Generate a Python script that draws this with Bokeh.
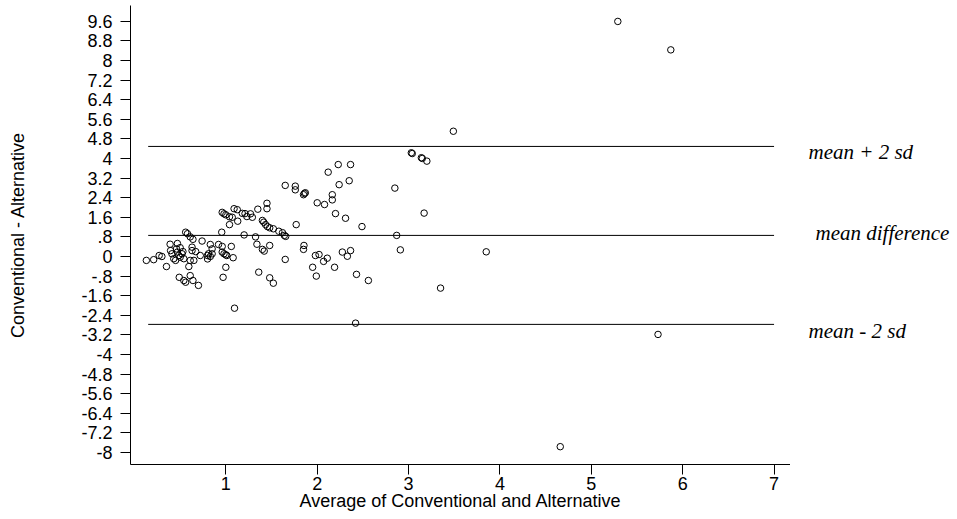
from bokeh.plotting import figure
from bokeh.models import Range1d, LinearAxis, FixedTicker, ColumnDataSource
from bokeh.layouts import row
from bokeh.core.properties import value
from bokeh.embed import file_html
from bokeh.resources import INLINE

# ---- data ----
avg = [0.13, 0.21, 0.27, 0.30, 0.35,
       0.39, 0.395, 0.41, 0.43, 0.45, 0.46, 0.47, 0.47, 0.485, 0.49, 0.50, 0.50, 0.52, 0.53, 0.54, 0.54,
       0.56, 0.56, 0.58, 0.595, 0.61, 0.61, 0.61, 0.63, 0.63, 0.64, 0.64, 0.65, 0.67, 0.70, 0.72, 0.74,
       0.80, 0.80, 0.81, 0.83, 0.83, 0.85, 0.85, 0.92, 0.955, 0.96, 0.96, 0.96, 0.97, 0.98, 0.98, 1.00, 1.00, 1.00, 1.01,
       1.04, 1.04, 1.06, 1.07, 1.08, 1.09, 1.095, 1.125, 1.13, 1.18, 1.20, 1.21, 1.23, 1.27, 1.29, 1.325, 1.34, 1.35, 1.36,
       1.40, 1.40, 1.415, 1.42, 1.435, 1.45, 1.45, 1.455, 1.48, 1.48, 1.48, 1.52, 1.52, 1.58, 1.62, 1.64, 1.65, 1.65, 1.655,
       1.76, 1.76, 1.77, 1.85, 1.85, 1.855, 1.86, 1.87, 1.95, 1.98, 1.99, 2.00, 2.02, 2.07, 2.08, 2.11, 2.12, 2.165, 2.165,
       2.19, 2.20, 2.23, 2.24, 2.275, 2.31, 2.33, 2.35, 2.365, 2.365, 2.42, 2.43, 2.49, 2.56,
       2.85, 2.87, 2.91, 3.03, 3.04, 3.14, 3.15, 3.17, 3.20, 3.35, 3.49, 3.85, 4.66, 5.29, 5.73, 5.87]
diff = [-0.16, -0.13, 0.04, 0.00, -0.41,
        0.50, 0.24, 0.11, -0.09, -0.16, 0.31, 0.53, 0.18, 0.04, -0.85, -0.03, 0.36, 0.11, 0.20, -0.09, -0.98,
        0.99, -1.05, 0.93, -0.41, 0.80, -0.16, -0.78, 0.38, 0.24, 0.70, -0.98, -0.16, 0.20, -1.18, 0.04, 0.63,
        0.04, -0.10, 0.11, 0.49, 0.00, 0.31, 0.11, 0.49, 0.99, 1.80, 0.41, 0.18, -0.85, 1.74, 0.11, 1.70, 0.07, -0.44, 0.04,
        1.62, 1.30, 0.41, 1.60, -0.05, 1.95, -2.11, 1.91, 1.44, 1.76, 0.88, 1.75, 1.63, 1.74, 1.60, 0.80, 0.50, 1.93, -0.64,
        1.47, 0.29, 1.40, 0.22, 1.30, 2.17, 1.95, 1.22, 1.17, 0.45, -0.87, 1.13, -1.09, 1.03, 0.97, 0.86, 2.90, -0.12, 0.82,
        2.87, 2.72, 1.30, 2.52, 0.29, 0.45, 2.57, 2.60, -0.44, 0.04, -0.80, 2.19, 0.08, -0.20, 2.12, -0.07, 3.44, 2.52, 2.31,
        -0.44, 1.75, 3.75, 2.93, 0.18, 1.56, 0.01, 3.09, 3.75, 0.24, -2.72, -0.73, 1.22, -0.98,
        2.79, 0.86, 0.27, 4.23, 4.20, 4.03, 4.00, 1.77, 3.89, -1.29, 5.11, 0.19, -7.76, 9.59, -3.18, 8.43]

mean_diff = 0.86
sd_diff = 1.815
line_x = [0.15, 7.0]

ref_labels = ["mean + 2 sd", "mean difference", "mean - 2 sd"]

x_ticks = [1, 2, 3, 4, 5, 6, 7]
y_ticks = [-8.0, -7.2, -6.4, -5.6, -4.8, -4.0, -3.2, -2.4, -1.6, -0.8, 0.0,
           0.8, 1.6, 2.4, 3.2, 4.0, 4.8, 5.6, 6.4, 7.2, 8.0, 8.8, 9.6]
y_tick_labels = ["-8", "-7.2", "-6.4", "-5.6", "-4.8", "-4", "-3.2", "-2.4", "-1.6", "-.8", "0",
                 ".8", "1.6", "2.4", "3.2", "4", "4.8", "5.6", "6.4", "7.2", "8", "8.8", "9.6"]

x_title = "Average of Conventional and Alternative"
y_title = "Conventional - Alternative"

# ---- main figure ----
X0, X1 = -0.0435, 7.18
Y0, Y1 = -8.487, 10.24
yr = Range1d(Y0, Y1)

p = figure(width=790, height=519, output_backend="svg", toolbar_location=None,
           x_range=Range1d(X0, X1), y_range=yr,
           x_axis_location=None, y_axis_location=None,
           min_border_left=130, min_border_right=0, min_border_top=5, min_border_bottom=55)
p.grid.visible = False
p.outline_line_color = None
p.background_fill_color = "white"
p.border_fill_color = "white"

FS = "18px"

xaxis = LinearAxis(ticker=FixedTicker(ticks=x_ticks), axis_label=x_title)
yaxis = LinearAxis(ticker=FixedTicker(ticks=y_ticks), axis_label=y_title,
                   major_label_overrides={t: s for t, s in zip(y_ticks, y_tick_labels)})
for ax in (xaxis, yaxis):
    ax.axis_line_color = "black"
    ax.axis_line_width = 1
    ax.major_tick_line_color = "black"
    ax.major_tick_out = 10
    ax.major_tick_in = 0
    ax.minor_tick_out = 0
    ax.minor_tick_in = 0
    ax.major_label_text_font = "Liberation Sans"
    ax.major_label_text_font_size = FS
    ax.major_label_text_color = "black"
    ax.axis_label_text_font = "Liberation Sans"
    ax.axis_label_text_font_size = FS
    ax.axis_label_text_font_style = "normal"
    ax.axis_label_text_color = "black"
xaxis.major_label_standoff = 2
xaxis.axis_label_standoff = -2
yaxis.major_label_standoff = 8
yaxis.axis_label_standoff = 50
p.add_layout(xaxis, "below")
p.add_layout(yaxis, "left")

# reference lines
for yy in (mean_diff + 2 * sd_diff, mean_diff, mean_diff - 2 * sd_diff):
    p.line(line_x, [yy, yy], line_color="black", line_width=1)

# points
src = ColumnDataSource(dict(x=avg, y=diff))
p.scatter("x", "y", source=src, marker="circle", size=6.5, fill_color=None,
          line_color="black", line_width=1)

# ---- right-hand panel with the line labels ----
p2 = figure(width=167, height=519, output_backend="svg", toolbar_location=None,
            x_range=Range1d(0, 167), y_range=yr,
            x_axis_location=None, y_axis_location=None,
            min_border_left=0, min_border_right=0, min_border_top=5, min_border_bottom=55)
p2.grid.visible = False
p2.outline_line_color = None
p2.background_fill_color = "white"
p2.border_fill_color = "white"

lab_src = ColumnDataSource(dict(
    x=[18, 25, 18],
    y=[mean_diff + 2 * sd_diff, mean_diff, mean_diff - 2 * sd_diff],
    text=ref_labels,
    yoff=[6, -2, 7],
))
p2.text("x", "y", text="text", source=lab_src, text_font=value("Liberation Serif"),
        text_font_style="italic", text_font_size="21px", text_baseline="middle",
        text_align="left", text_color="black", y_offset="yoff")

layout = row(p, p2, spacing=0)
open("out.html", "w").write(file_html(layout, INLINE))
